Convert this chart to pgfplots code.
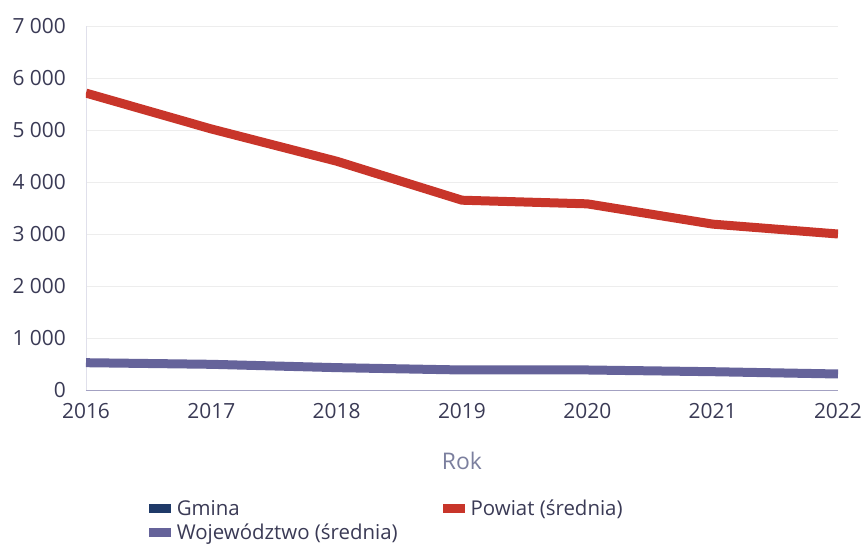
\documentclass[border=0pt]{standalone}
\usepackage{pgfplots}
\pgfplotsset{compat=1.18}
\usepackage{fontspec}
\setmainfont{Open Sans}
\definecolor{txt}{HTML}{3A3A55}
\definecolor{roklab}{HTML}{7B7F9E}
\definecolor{gmina}{HTML}{1F3A68}
\definecolor{powiat}{HTML}{C8352A}
\definecolor{woj}{HTML}{65639A}
\begin{document}
\begin{tikzpicture}
\useasboundingbox (-86bp,-156bp) rectangle (777bp,390bp);
\begin{axis}[
  scale only axis, width=752bp, height=364bp,
  xmin=2016, xmax=2022, ymin=0, ymax=7000,
  axis x line*=bottom, axis y line*=left,
  x axis line style={color=woj!60, line width=1pt, -},
  y axis line style={color=woj!20, line width=0.8pt, -},
  xtick={2016,...,2022}, ytick={0,1000,...,7000},
  major tick length=0pt,
  ymajorgrids, grid style={color=black!7, line width=0.6pt},
  /pgf/number format/assume math mode=true,
  xticklabel style={/pgf/number format/1000 sep={}, font=\fontsize{21}{24}\selectfont, text=txt, inner ysep=0pt, yshift=-13bp},
  yticklabel style={/pgf/number format/1000 sep={\ }, font=\fontsize{21}{24}\selectfont, text=txt, inner xsep=0pt, xshift=-20bp},
  xlabel={Rok},
  xlabel style={at={(axis description cs:0.5,-0.196)}, anchor=center, font=\fontsize{23}{26}\selectfont, text=roklab},
  legend columns=2,
  legend cell align=left,
  legend style={at={(axis description cs:0.0793,-0.29)}, anchor=north west, draw=none, fill=none,
    font=\fontsize{20.5}{24}\selectfont, text=txt, row sep=3bp,
    /tikz/every even column/.append style={column sep=43bp}},
  legend image code/.code={\path[draw=none, fill] (0bp,-4.5bp) rectangle (22bp,4.5bp); \path[draw=none, fill=none] (0bp,0bp) -- (26bp,0bp);},
]
\addlegendimage{color=gmina, fill=gmina}
\addlegendentry{Gmina}
\addplot[color=powiat, line width=9bp, line join=round] coordinates {
 (2016,5710) (2017,5020) (2018,4400) (2019,3650) (2020,3580) (2021,3190) (2022,3000)};
\addlegendentry{Powiat (średnia)}
\addplot[color=woj, line width=9bp, line join=round] coordinates {
 (2016,525) (2017,494) (2018,430) (2019,385) (2020,385) (2021,352) (2022,308)};
\addlegendentry{Województwo (średnia)}
\end{axis}
\end{tikzpicture}
\end{document}
